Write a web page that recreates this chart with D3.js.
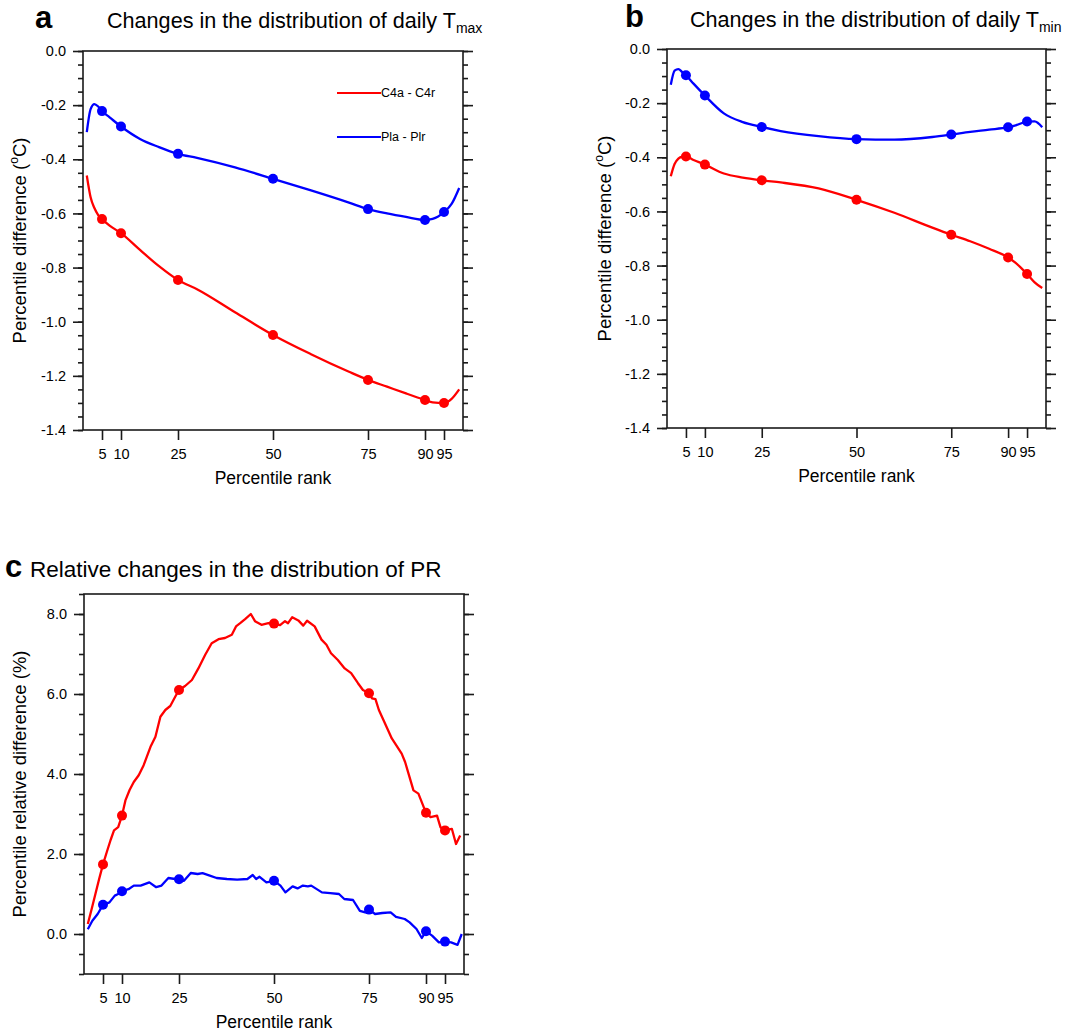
<!DOCTYPE html>
<html>
<head>
<meta charset="utf-8">
<script src="https://cdn.jsdelivr.net/npm/d3@7"></script>
<style>
  body { margin: 0; background: #fff; }
  text { font-family: "Liberation Sans", Arial, Helvetica, sans-serif; fill: #000; }
</style>
</head>
<body>
<div id="chart"></div>
<script>
// percentile ranks shown on the x axis and marked with dots
const markerRanks = [5, 10, 25, 50, 75, 90, 95];
const seriesNames = ["C4a - C4r", "Pla - Plr"];
const seriesColors = ["#f00", "#0000ff"];

// panels a and b share one set of ranks
const smoothRanks = [1, 2, 3, 4, 5, 7, 10, 15, 20, 25, 30, 40, 50, 60, 70, 75, 80, 85, 90, 92, 95, 97, 99];
const tmaxC4 = [-0.46, -0.54, -0.58, -0.606, -0.621, -0.645, -0.673, -0.735, -0.795, -0.846, -0.88, -0.965, -1.049, -1.12, -1.185, -1.215, -1.24, -1.265, -1.289, -1.298, -1.30, -1.285, -1.25];
const tmaxPl = [-0.30, -0.215, -0.196, -0.205, -0.222, -0.245, -0.279, -0.325, -0.355, -0.38, -0.395, -0.43, -0.472, -0.515, -0.56, -0.584, -0.60, -0.613, -0.624, -0.62, -0.595, -0.565, -0.506];
const tminC4 = [-0.47, -0.425, -0.405, -0.398, -0.397, -0.41, -0.427, -0.46, -0.475, -0.485, -0.493, -0.515, -0.557, -0.605, -0.66, -0.686, -0.71, -0.738, -0.77, -0.79, -0.831, -0.862, -0.883];
const tminPl = [-0.132, -0.08, -0.074, -0.085, -0.097, -0.128, -0.172, -0.238, -0.27, -0.288, -0.303, -0.322, -0.333, -0.335, -0.325, -0.316, -0.306, -0.298, -0.289, -0.282, -0.268, -0.267, -0.289];

// panel c is noisy, so each series keeps its own ranks
const prC4Rank = [1, 2, 3, 4, 5, 6, 7, 7.9, 9, 10, 10.9, 12, 13.1, 14.4, 15.7, 17.5, 18.8, 20.1, 21.4, 22.7, 24, 25, 26.6, 28.4, 30.1, 31.9, 33.6, 35.4, 37.1, 38.9, 40, 41.1, 42.4, 43.9, 45, 46.7, 48.5, 50, 51.6, 52.9, 53.7, 54.8, 56.4, 57.7, 58.7, 60.7, 62.5, 63.8, 65, 66.8, 68.6, 70.3, 72.1, 73.4, 75, 75.8, 76.7, 77.6, 78.8, 81, 83.6, 84.5, 85.4, 86.7, 88, 90, 91.2, 92.9, 93.8, 95, 96.8, 97.9, 99];
const prC4 = [0.25, 0.62, 1.0, 1.38, 1.74, 2.05, 2.35, 2.59, 2.67, 2.96, 3.34, 3.6, 3.80, 3.97, 4.22, 4.68, 4.93, 5.43, 5.60, 5.70, 5.93, 6.10, 6.20, 6.35, 6.64, 6.98, 7.27, 7.37, 7.40, 7.48, 7.69, 7.77, 7.87, 8.0, 7.82, 7.73, 7.77, 7.76, 7.72, 7.82, 7.77, 7.92, 7.84, 7.71, 7.83, 7.69, 7.36, 7.23, 7.02, 6.85, 6.64, 6.52, 6.27, 6.10, 6.02, 5.89, 5.87, 5.60, 5.35, 4.89, 4.51, 4.30, 4.01, 3.59, 3.51, 3.03, 2.92, 2.96, 2.67, 2.59, 2.63, 2.25, 2.46];
const prPlRank = [1, 2.2, 3.6, 5, 6.7, 8.1, 9, 10, 11.7, 13.1, 14.9, 17.2, 19, 20.4, 22.2, 24, 25, 26.3, 28.1, 29.9, 31.2, 33.1, 34.9, 37.6, 40.3, 43, 44.4, 45.3, 46.2, 48, 50, 51.7, 53, 54.9, 56.2, 57.6, 58.9, 59.8, 62.6, 64.8, 67.1, 68.5, 70.8, 72.6, 74, 75, 76.6, 78.5, 80.7, 82.1, 84.4, 85.7, 87.5, 88.9, 90, 91.6, 93.4, 95, 96.6, 98.3, 99.4];
const prPl = [0.12, 0.33, 0.5, 0.73, 0.79, 0.96, 1.0, 1.07, 1.12, 1.21, 1.21, 1.29, 1.17, 1.21, 1.40, 1.375, 1.37, 1.33, 1.525, 1.50, 1.52, 1.46, 1.40, 1.375, 1.36, 1.375, 1.475, 1.375, 1.43, 1.29, 1.33, 1.21, 1.04, 1.19, 1.14, 1.21, 1.19, 1.21, 1.04, 1.02, 1.0, 0.875, 0.85, 0.58, 0.54, 0.61, 0.5, 0.525, 0.54, 0.43, 0.375, 0.29, 0.125, -0.1, 0.067, -0.04, -0.21, -0.19, -0.21, -0.27, 0.0];

const W = 1068, H = 1034;
const svg = d3.select("#chart").append("svg")
    .attr("width", W)
    .attr("height", H);

function drawPanel(p) {
    const g = svg.append("g");
    const x = d3.scaleLinear().domain([0, 100]).range([p.left, p.right]);
    const y = d3.scaleLinear().domain(p.yDomain).range([p.bottom, p.top]);

    // minor ticks, left and right
    g.append("g")
        .attr("transform", "translate(" + p.left + ",0)")
        .call(d3.axisLeft(y).tickValues(p.minor).tickSize(5).tickFormat(""));
    g.append("g")
        .attr("transform", "translate(" + p.right + ",0)")
        .call(d3.axisRight(y).tickValues(p.minor).tickSize(5).tickFormat(""));

    // major ticks
    g.append("g")
        .attr("class", "yleft")
        .attr("transform", "translate(" + p.left + ",0)")
        .call(d3.axisLeft(y).tickValues(p.major).tickSize(10).tickPadding(7)
            .tickFormat(d => d.toFixed(1)));
    g.append("g")
        .attr("transform", "translate(" + p.right + ",0)")
        .call(d3.axisRight(y).tickValues(p.major).tickSize(10).tickFormat(""));
    g.append("g")
        .attr("class", "xbottom")
        .attr("transform", "translate(0," + p.bottom + ")")
        .call(d3.axisBottom(x).tickValues(markerRanks).tickSize(10).tickPadding(9));

    g.selectAll(".domain").remove();
    g.selectAll(".tick line").attr("stroke", "#1a1a1a").attr("stroke-width", 1.6);
    g.selectAll(".tick text")
        .style("font-family", '"Liberation Sans", Arial, sans-serif')
        .attr("font-size", 14.5)
        .attr("fill", "#000");

    // frame
    g.append("rect")
        .attr("x", p.left).attr("y", p.top)
        .attr("width", p.right - p.left).attr("height", p.bottom - p.top)
        .attr("fill", "none").attr("stroke", "#1a1a1a").attr("stroke-width", 1.6);

    // curves
    const line = d3.line()
        .x(d => x(d[0]))
        .y(d => y(d[1]))
        .curve(p.curve);

    p.series.forEach((s, i) => {
        const pts = s.ranks.map((r, k) => [r, s.values[k]]);
        g.append("path")
            .datum(pts)
            .attr("fill", "none")
            .attr("stroke", seriesColors[i])
            .attr("stroke-width", 2.3)
            .attr("stroke-linejoin", "round")
            .attr("d", line);
        g.selectAll(null)
            .data(pts.filter(d => markerRanks.includes(d[0])))
            .enter()
            .append("circle")
            .attr("cx", d => x(d[0]))
            .attr("cy", d => y(d[1]))
            .attr("r", 5)
            .attr("fill", seriesColors[i]);
    });

    // axis titles
    g.append("text")
        .attr("x", (p.left + p.right) / 2)
        .attr("y", p.bottom + 54)
        .attr("text-anchor", "middle")
        .attr("font-size", 17.5)
        .text("Percentile rank");

    const yt = g.append("text")
        .attr("transform", "translate(" + p.yTitleX + "," + ((p.top + p.bottom) / 2) + ") rotate(-90)")
        .attr("text-anchor", "middle")
        .attr("dy", "0.35em")
        .attr("font-size", 18.5);
    p.yTitle(yt);

    // panel letter and title
    g.append("text")
        .attr("x", p.letterX).attr("y", p.titleY)
        .attr("font-size", 31).attr("font-weight", "bold")
        .text(p.letter);
    const tt = g.append("text")
        .attr("x", p.titleX).attr("y", p.titleY)
        .attr("font-size", p.titleSize);
    tt.append("tspan").text(p.title);
    if (p.sub) {
        tt.append("tspan").attr("font-size", 14).attr("dy", 5).text(p.sub);
    }
    return { g, x, y };
}

const degTitle = t => {
    t.append("tspan").text("Percentile difference (");
    t.append("tspan").attr("font-size", 12).attr("dy", -8).text("o");
    t.append("tspan").attr("dy", 8).text("C)");
};

const tempMajor = d3.range(8).map(i => -0.2 * i);
const tempMinor = d3.range(29).map(i => -0.05 * i);

const pa = drawPanel({
    left: 83, right: 463, top: 51, bottom: 430,
    yDomain: [-1.4, 0], major: tempMajor, minor: tempMinor,
    curve: d3.curveMonotoneX,
    series: [{ ranks: smoothRanks, values: tmaxC4 }, { ranks: smoothRanks, values: tmaxPl }],
    yTitleX: 20, yTitle: degTitle,
    letter: "a", letterX: 35, titleX: 107, titleY: 28, titleSize: 21.6,
    title: "Changes in the distribution of daily T", sub: "max"
});

drawPanel({
    left: 667, right: 1046, top: 49, bottom: 428,
    yDomain: [-1.4, 0], major: tempMajor, minor: tempMinor,
    curve: d3.curveMonotoneX,
    series: [{ ranks: smoothRanks, values: tminC4 }, { ranks: smoothRanks, values: tminPl }],
    yTitleX: 605, yTitle: degTitle,
    letter: "b", letterX: 625, titleX: 690, titleY: 27, titleSize: 21.6,
    title: "Changes in the distribution of daily T", sub: "min"
});

drawPanel({
    left: 84, right: 464, top: 594, bottom: 974,
    yDomain: [-1, 8.5], major: [0, 2, 4, 6, 8], minor: d3.range(20).map(i => -1 + 0.5 * i),
    curve: d3.curveLinear,
    series: [{ ranks: prC4Rank, values: prC4 }, { ranks: prPlRank, values: prPl }],
    yTitleX: 20, yTitle: t => t.text("Percentile relative difference (%)"),
    letter: "c", letterX: 5, titleX: 30, titleY: 577, titleSize: 22.5,
    title: "Relative changes in the distribution of PR"
});

// legend inside panel a
const legendY = [-0.155, -0.318];
seriesNames.forEach((name, i) => {
    const ly = pa.y(legendY[i]);
    svg.append("line")
        .attr("x1", 337).attr("x2", 381)
        .attr("y1", ly).attr("y2", ly)
        .attr("stroke", seriesColors[i]).attr("stroke-width", 2);
    svg.append("text")
        .attr("x", 381).attr("y", ly)
        .attr("dy", "0.35em")
        .attr("font-size", 12.5)
        .text(name);
});
</script>
</body>
</html>
